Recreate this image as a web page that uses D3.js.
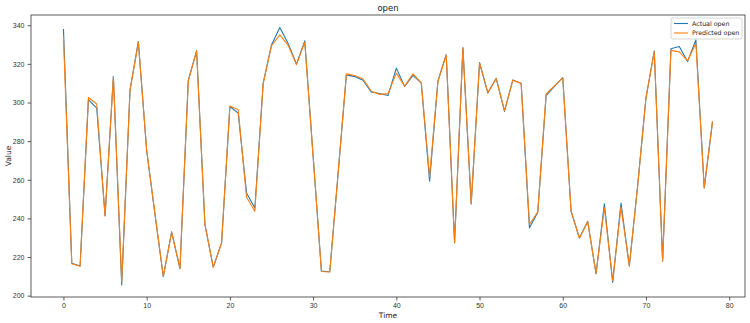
<!DOCTYPE html>
<html>
<head>
<meta charset="utf-8">
<script src="https://cdn.jsdelivr.net/npm/d3@7"></script>
<style>
  body { margin: 0; background: #fff; }
  svg { display: block; font-family: "DejaVu Sans", sans-serif; }
</style>
</head>
<body>
<div id="viz"></div>
<script>
var actualOpen = [338.1, 216.8, 215.4, 301.5, 297.1, 241.4, 313.6, 205.5, 306.6, 331.6,
    275, 242, 209.8, 233, 214, 311.4, 326.9, 236.8, 214.7, 227.3,
    297.9, 294.5, 253.2, 245.4, 310, 329.8, 338.8, 330.6, 319.8, 331.9,
    272.3, 212.7, 212.4, 263, 314.3, 313.4, 311.5, 305.4, 304.7, 303.6,
    317.8, 308.3, 314, 310, 259.2, 311.2, 324.7, 227.3, 328.4, 247.5,
    320.7, 304.9, 312.6, 295.4, 311.7, 310, 235.1, 243.2, 303.6, 308.3,
    312.9, 243.7, 229.9, 238.5, 211.3, 247.5, 206.8, 247.9, 215.3, 257,
    302.3, 326.7, 217.8, 327.8, 329, 321.2, 332.4, 255.7, 290.2];

var predictedOpen = [334.1, 216.5, 215.2, 302.6, 299.2, 241.2, 313.4, 207.2, 306.3, 331,
    275.5, 242.3, 209.9, 232.8, 214.2, 311.2, 326.6, 236.9, 214.8, 227.2,
    298.2, 296.2, 250.9, 243.7, 309.8, 329.4, 335, 329.6, 319.6, 331.2,
    272.5, 212.5, 212.3, 263.2, 314.8, 314.0, 312.2, 305.8, 304.2, 304.6,
    315.2, 308.5, 314.8, 310.2, 261.8, 311, 324.5, 227.5, 328.2, 247.6,
    320.4, 305.1, 312.4, 295.8, 311.5, 309.9, 236.8, 243.4, 304.4, 308.6,
    312.7, 243.9, 229.7, 238.2, 211.5, 245.5, 207.8, 245.8, 215.5, 256.8,
    302.5, 326.4, 218, 327, 326.2, 321.6, 330.6, 255.9, 290.2];

var xTicks = [0, 10, 20, 30, 40, 50, 60, 70, 80];
var yTicks = [200, 220, 240, 260, 280, 300, 320, 340];
var seriesNames = ['Actual open', 'Predicted open'];
var seriesColors = ['#1f77b4', '#ff7f0e'];

var width = 750,
    height = 323,
    margin = {top: 15, right: 5, bottom: 26, left: 31};

var svg = d3.select('#viz').append('svg')
    .attr('width', width)
    .attr('height', height);

var xScale = d3.scaleLinear()
    .domain([-3.9, 81.9])
    .range([margin.left, width - margin.right]);

var yScale = d3.scaleLinear()
    .domain([199.3, 345.3])
    .range([height - margin.bottom, margin.top]);

// axes
var xAxis = svg.append('g')
    .attr('transform', 'translate(0,' + (height - margin.bottom) + ')')
    .call(d3.axisBottom(xScale).tickValues(xTicks).tickSize(3.5).tickPadding(3));

var yAxis = svg.append('g')
    .attr('transform', 'translate(' + margin.left + ',0)')
    .call(d3.axisLeft(yScale).tickValues(yTicks).tickSize(3.5).tickPadding(3));

[xAxis, yAxis].forEach(function(ax) {
    ax.select('.domain').remove();
    ax.selectAll('line').attr('stroke', '#333').attr('stroke-width', 0.8);
    ax.selectAll('text').attr('fill', '#333').style('font-size', '7px');
});

// series lines
var line = d3.line()
    .x(function(d, i) { return xScale(i); })
    .y(function(d) { return yScale(d); });

[actualOpen, predictedOpen].forEach(function(data, k) {
    svg.append('path')
        .datum(data)
        .attr('fill', 'none')
        .attr('stroke', seriesColors[k])
        .attr('stroke-width', 1.1)
        .attr('stroke-linejoin', 'round')
        .attr('d', line);
});

// frame
svg.append('rect')
    .attr('x', margin.left)
    .attr('y', margin.top)
    .attr('width', width - margin.left - margin.right)
    .attr('height', height - margin.top - margin.bottom)
    .attr('fill', 'none')
    .attr('stroke', '#333')
    .attr('stroke-width', 0.8);

// labels
svg.append('text')
    .attr('x', (margin.left + width - margin.right) / 2)
    .attr('y', 10.5)
    .attr('text-anchor', 'middle')
    .style('font-size', '8.5px')
    .attr('fill', '#222')
    .text('open');

svg.append('text')
    .attr('x', (margin.left + width - margin.right) / 2)
    .attr('y', 318)
    .attr('text-anchor', 'middle')
    .style('font-size', '7.5px')
    .attr('fill', '#222')
    .text('Time');

svg.append('text')
    .attr('transform', 'translate(11,' + ((margin.top + height - margin.bottom) / 2) + ') rotate(-90)')
    .attr('text-anchor', 'middle')
    .style('font-size', '7.5px')
    .attr('fill', '#222')
    .text('Value');

// legend
var legend = svg.append('g')
    .attr('transform', 'translate(671,18)');

legend.append('rect')
    .attr('width', 71)
    .attr('height', 21)
    .attr('rx', 2)
    .attr('fill', '#fff')
    .attr('fill-opacity', 0.8)
    .attr('stroke', '#ccc')
    .attr('stroke-width', 0.8);

seriesNames.forEach(function(name, i) {
    var row = legend.append('g')
        .attr('transform', 'translate(0,' + (5.5 + i * 9.5) + ')');
    row.append('line')
        .attr('x1', 3).attr('x2', 17)
        .attr('stroke', seriesColors[i])
        .attr('stroke-width', 1.1);
    row.append('text')
        .attr('x', 21)
        .attr('y', 2.3)
        .style('font-size', '6.3px')
        .attr('fill', '#222')
        .text(name);
});
</script>
</body>
</html>
